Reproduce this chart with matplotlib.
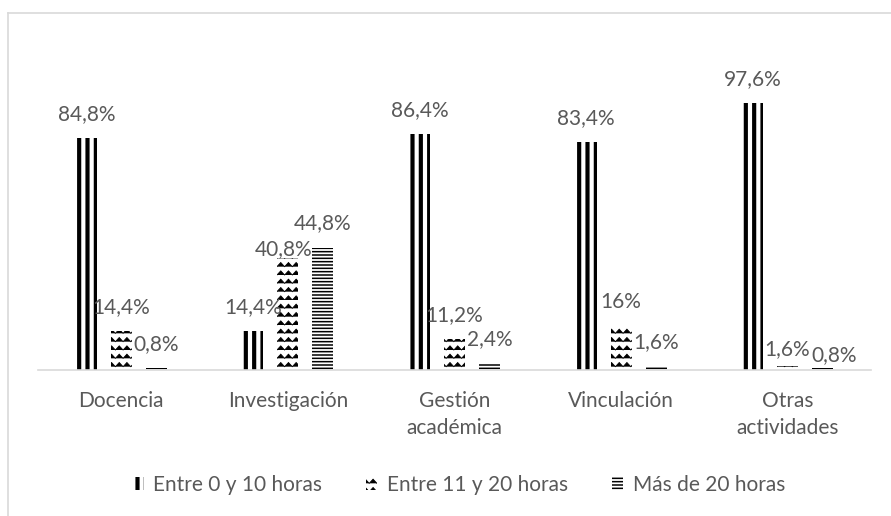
import warnings
import numpy as np
import matplotlib
matplotlib.use("Agg")
import matplotlib.pyplot as plt
import matplotlib.hatch as mhatch
from matplotlib.path import Path
from matplotlib.lines import Line2D

warnings.filterwarnings("ignore")

# Data
categories = ["Docencia", "Investigación", "Gestión\nacadémica", "Vinculación", "Otras\nactividades"]
series_names = ["Entre 0 y 10 horas", "Entre 11 y 20 horas", "Más de 20 horas"]
entre_0_10 = [84.8, 14.4, 86.4, 83.4, 97.6]
entre_11_20 = [14.4, 40.8, 11.2, 16.0, 1.6]
mas_20 = [0.8, 44.8, 2.4, 1.6, 0.8]


# zigzag hatch ('z'), like the Excel pattern fill
class ZigzagHatch(mhatch.HatchPatternBase):
    def __init__(self, hatch, density):
        n = hatch.count("z")
        self.num_rows = int(n * density * 2.0)
        self.num_cols = int(n * density * 2.2)
        self.num_vertices = self.num_rows * (2 * self.num_cols + 1) if n else 0

    def set_vertices_and_codes(self, vertices, codes):
        step = 1.0 / self.num_rows
        xs = np.linspace(0, 1, 2 * self.num_cols + 1)
        bump = np.where(np.arange(len(xs)) % 2 == 1, step * 0.5, 0.0)
        k = 0
        for r in range(self.num_rows):
            m = len(xs)
            vertices[k:k + m, 0] = xs
            vertices[k:k + m, 1] = r * step + bump
            codes[k] = Path.MOVETO
            codes[k + 1:k + m] = Path.LINETO
            k += m


mhatch._hatch_types.append(ZigzagHatch)

text_color = "#595959"
plt.rcParams["font.family"] = ["Lato", "DejaVu Sans"]
plt.rcParams["font.size"] = 15

fig = plt.figure(figsize=(8.91, 5.16), dpi=100)
ax = fig.add_axes([38 / 891, 146 / 516, 833 / 891, 328 / 516])

x = np.arange(len(categories))
step = 0.21
width = 0.126
styles = [("||", 3.0), ("z", 0.6), ("-----", 1.1)]
all_series = [entre_0_10, entre_11_20, mas_20]

# label nudges (pixels) where the original labels were moved by hand
nudges = {(1, 1): (-4, 9), (1, 4): (-1, 17), (2, 4): (11, 13)}

for i, (vals, name, (hatch, hlw)) in enumerate(zip(all_series, series_names, styles)):
    with plt.rc_context({"hatch.linewidth": hlw}):
        bars = ax.bar(x + (i - 1) * step, vals, width, color="white",
                      edgecolor="black", linewidth=0, hatch=hatch, label=name)
    for b in bars:
        if hasattr(b, "set_hatch_linewidth"):
            b.set_hatch_linewidth(hlw)
    for j, v in enumerate(vals):
        dx, dy = nudges.get((i, j), (0, 24))
        txt = f"{v:g}".replace(".", ",") + "%"
        ax.annotate(txt, xy=(x[j] + (i - 1) * step, v), xytext=(dx, dy),
                    textcoords="offset pixels", ha="center", va="center",
                    color=text_color, fontsize=15, annotation_clip=False)

ax.set_xlim(-0.5, len(categories) - 0.5)
ax.set_ylim(0, 120)
ax.set_xticks(x)
ax.set_xticklabels(categories, color=text_color, fontsize=15, linespacing=1.45)
ax.tick_params(axis="x", length=0, pad=15)
ax.set_yticks([])
for s in ["top", "left", "right"]:
    ax.spines[s].set_visible(False)
ax.spines["bottom"].set_color("#d9d9d9")
ax.spines["bottom"].set_linewidth(1.2)

leg = ax.legend(loc="center", bbox_to_anchor=(0.505, -0.35), ncol=3, frameon=False,
                fontsize=15, handlelength=0.55, handleheight=0.55, handletextpad=0.45,
                columnspacing=2.1, labelcolor=text_color)
for p, (hatch, hlw) in zip(leg.get_patches(), styles):
    p.set_linewidth(0)
    if hasattr(p, "set_hatch_linewidth"):
        p.set_hatch_linewidth(hlw)

# light frame of the chart area (left and top edges visible)
fig.add_artist(Line2D([8 / 891, 8 / 891], [0, 1 - 13 / 516], color="#d9d9d9", lw=1.2))
fig.add_artist(Line2D([8 / 891, 1], [1 - 13 / 516, 1 - 13 / 516], color="#d9d9d9", lw=1.2))

fig.savefig("out.png", dpi=100)
